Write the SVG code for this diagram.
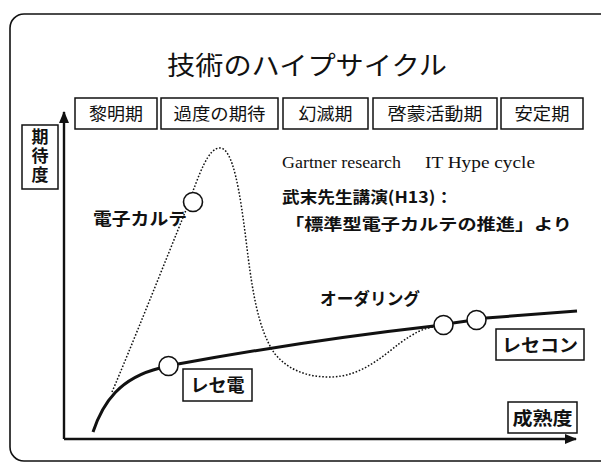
<svg xmlns="http://www.w3.org/2000/svg" width="601" height="462" viewBox="0 0 601 462">
<style>
.jp{font-family:"Noto Sans CJK JP","Noto Sans CJK SC",sans-serif;fill:#111}
.b{font-weight:bold}
.box{fill:#fff;stroke:#111;stroke-width:1.5}
.pt{fill:#fff;stroke:#111;stroke-width:1.6}
.serif{font-family:"Liberation Serif",serif;fill:#111}
</style>
<defs>
<marker id="ah" viewBox="0 0 12 10" refX="11" refY="5" markerWidth="12" markerHeight="10" markerUnits="userSpaceOnUse" orient="auto">
<path d="M0,0 L12,5 L0,10 z" fill="#111"/>
</marker>
</defs>
<rect x="0" y="0" width="601" height="462" fill="#fff"/>
<rect x="10" y="14" width="620" height="447" rx="14" fill="none" stroke="#111" stroke-width="1.6"/>

<g id="title">
<text class="jp" x="307" y="75" font-size="26" text-anchor="middle" textLength="280" lengthAdjust="spacingAndGlyphs">技術のハイプサイクル</text>
</g>

<g id="phase1"><rect class="box" x="75" y="98" width="82" height="31"/><text class="jp" x="116" y="120" font-size="17" text-anchor="middle" textLength="54" lengthAdjust="spacingAndGlyphs">黎明期</text></g>
<g id="phase2"><rect class="box" x="161" y="98" width="117" height="31"/><text class="jp" x="219.5" y="120" font-size="17" text-anchor="middle" textLength="92" lengthAdjust="spacingAndGlyphs">過度の期待</text></g>
<g id="phase3"><rect class="box" x="283" y="98" width="85" height="31"/><text class="jp" x="325.5" y="120" font-size="17" text-anchor="middle" textLength="54" lengthAdjust="spacingAndGlyphs">幻滅期</text></g>
<g id="phase4"><rect class="box" x="373" y="98" width="124" height="31"/><text class="jp" x="435" y="120" font-size="17" text-anchor="middle" textLength="95" lengthAdjust="spacingAndGlyphs">啓蒙活動期</text></g>
<g id="phase5"><rect class="box" x="501" y="98" width="82" height="31"/><text class="jp" x="542" y="120" font-size="17" text-anchor="middle" textLength="55" lengthAdjust="spacingAndGlyphs">安定期</text></g>

<g id="ylabel"><rect class="box" x="22" y="125" width="36" height="64"/>
<text class="jp b" x="40" y="128" font-size="17" writing-mode="vertical-rl" letter-spacing="2">期待度</text></g>

<g id="source">
<text class="serif" x="282" y="168" font-size="17" textLength="119" lengthAdjust="spacingAndGlyphs">Gartner research</text>
<text class="serif" x="425" y="168" font-size="17" textLength="110" lengthAdjust="spacingAndGlyphs">IT Hype cycle</text>
<text class="jp b" x="282" y="203" font-size="16" textLength="171" lengthAdjust="spacingAndGlyphs">武末先生講演(H13)：</text>
<text class="jp b" x="285" y="230" font-size="16" textLength="287" lengthAdjust="spacingAndGlyphs">「標準型電子カルテの推進」より</text>
</g>

<g id="connectors" fill="none" stroke="#111">
<line x1="64" y1="439" x2="64" y2="112" stroke-width="2.4" marker-end="url(#ah)"/>
<line x1="64" y1="439" x2="576" y2="439" stroke-width="2.4" marker-end="url(#ah)"/>
<path d="M112,392 C130,350 165,262 186,210 C200,172 208,148 220,148 C233,148 240,192 246,240 C252,290 258,330 275,354 C290,372 310,377 330,377 C360,377 382,357 400,343 C414,333 424,328 434,327" stroke-width="1.5" stroke-dasharray="1.6 1.8"/>
<path d="M93,432 C103,402 120,378 160,368" stroke-width="3"/>
<path d="M178,364 Q310,340 434,326" stroke-width="3"/>
<line x1="453" y1="323" x2="467" y2="321" stroke-width="3"/>
<line x1="486" y1="318" x2="577" y2="311" stroke-width="3"/>
</g>

<g id="denshi-karte"><circle class="pt" cx="193" cy="202" r="9.5"/><text class="jp b" x="93" y="225" font-size="17" textLength="94" lengthAdjust="spacingAndGlyphs">電子カルテ</text></g>
<g id="reseden"><circle class="pt" cx="168.5" cy="366" r="9.5"/><rect class="box" x="183" y="369" width="69" height="32"/><text class="jp b" x="217.5" y="392" font-size="18" text-anchor="middle" textLength="54" lengthAdjust="spacingAndGlyphs">レセ電</text></g>
<g id="ordering"><circle class="pt" cx="443.5" cy="325" r="9.5"/><text class="jp b" x="320" y="305" font-size="17" textLength="100" lengthAdjust="spacingAndGlyphs">オーダリング</text></g>
<g id="resecon"><circle class="pt" cx="476.5" cy="320" r="9.5"/><rect class="box" x="496" y="329" width="88" height="31"/><text class="jp b" x="540" y="352" font-size="18" text-anchor="middle" textLength="76" lengthAdjust="spacingAndGlyphs">レセコン</text></g>
<g id="xlabel"><rect class="box" x="508" y="402" width="69" height="31"/><text class="jp b" x="542.5" y="425" font-size="18" text-anchor="middle" textLength="60" lengthAdjust="spacingAndGlyphs">成熟度</text></g>
</svg>
